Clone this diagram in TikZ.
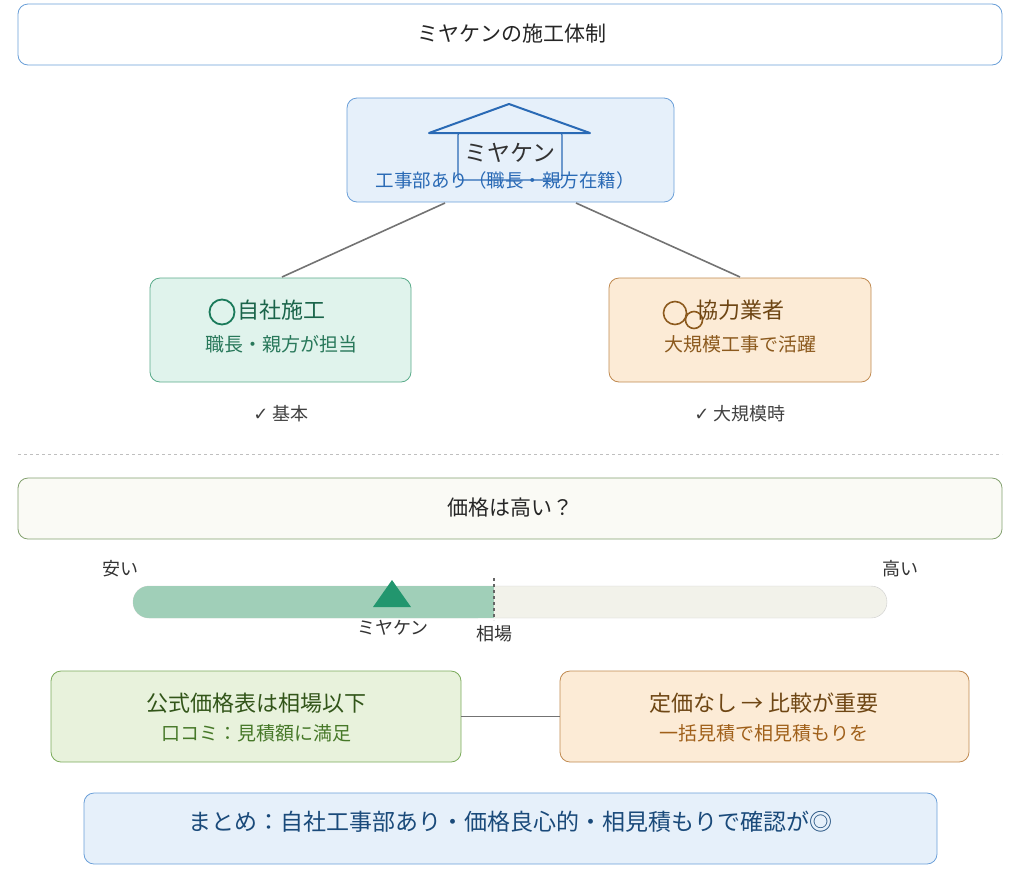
\documentclass[tikz,border=0pt]{standalone}
\usepackage{fontspec}
\setmainfont{Noto Sans CJK JP}
\newfontfamily\djv{DejaVu Sans}
\newcommand\fs[1]{\fontsize{#1}{#1}\selectfont}
\begin{document}
\begin{tikzpicture}[x=1pt,y=-1pt,
 box/.style={draw,rounded corners=10pt,line width=0.8pt},
 conn/.style={draw=gray!90!black,line width=1.6pt},
 t/.style={inner sep=0pt,anchor=center}]
\useasboundingbox (0,0) rectangle (1024,876);
\definecolor{bb}{HTML}{6A9FD8}\definecolor{bf}{HTML}{E6F0FA}
\definecolor{gb}{HTML}{5AAB8A}\definecolor{gf}{HTML}{E0F3EC}
\definecolor{ob}{HTML}{C08A50}\definecolor{of}{HTML}{FCEBD6}
\definecolor{lb}{HTML}{7AAA5A}\definecolor{lf}{HTML}{E8F2DC}
\definecolor{hb}{HTML}{2A6AB5}
\definecolor{gc}{HTML}{1A7A5A}\definecolor{gt}{HTML}{1A644A}\definecolor{gs}{HTML}{28785A}
\definecolor{oc}{HTML}{8C5A1E}\definecolor{ot}{HTML}{6E4614}\definecolor{os}{HTML}{A0601A}
\definecolor{pb}{HTML}{82A06E}\definecolor{pf}{HTML}{FAFAF5}
\definecolor{barf}{HTML}{F2F2EA}\definecolor{barg}{HTML}{A0CFB8}\definecolor{tri}{HTML}{22966E}
\definecolor{lt}{HTML}{325519}\definecolor{ls}{HTML}{467828}\definecolor{st}{HTML}{1A4A7A}
% title
\draw[box,draw=bb,fill=white] (18,4) rectangle (1002,65);
\node[t,font=\fs{21},text=black!85] (title) at (512,34) {ミヤケンの施工体制};
% top
\node[box,draw=bb,fill=bf,minimum width=327pt,minimum height=104pt] (top) at (510.5,150) {};
\draw[hb,line width=2pt,line join=round] (429,133)--(509,104)--(590,133)--cycle;
\draw[hb,line width=1.2pt,rounded corners=2pt] (458,133) rectangle (562,180);
\node[t,font=\fs{23},text=black!80] (tn) at (510,153) {ミヤケン};
\node[t,font=\fs{18.5},text=hb] (ts) at (505,180) {工事部あり（職長・親方在籍）};
% children
\node[box,draw=gb,fill=gf,minimum width=261pt,minimum height=104pt] (L) at (280.5,330) {};
\node[box,draw=ob,fill=of,minimum width=262pt,minimum height=104pt] (R) at (740,330) {};
\coordinate (la) at (445,203);\coordinate (lb1) at (282,277);
\coordinate (ra) at (576,203);\coordinate (rb1) at (740,277);
\draw[conn] (la)--(lb1); \draw[conn] (ra)--(rb1);
\draw[draw=gc,line width=1.8pt] (222,312) circle (12.5);
\node[t,font=\fs{22},text=gt] at (281,310) {自社施工};
\node[t,font=\fs{19},text=gs] at (281,344) {職長・親方が担当};
\draw[draw=oc,line width=1.6pt] (675,313) circle (11.5) (694,320) circle (8.5);
\node[t,font=\fs{22},text=ot] at (740,310) {協力業者};
\node[t,font=\fs{19},text=oc] at (740,344) {大規模工事で活躍};
\node[t,font=\fs{18},text=black!75] at (281,414) {{\djv ✓} 基本};
\node[t,font=\fs{18},text=black!75] at (740,414) {{\djv ✓} 大規模時};
\draw[black!25,dashed,line width=0.8pt] (18,454)--(1002,454);
% price
\node[box,draw=pb,fill=pf,minimum width=984pt,minimum height=61pt] (pq) at (510,508.5) {};
\node[t,font=\fs{21},text=black!85] at (510,508) {価格は高い？};
\node[t,font=\fs{18},text=black!80] at (120,569) {安い};
\node[t,font=\fs{18},text=black!80] at (900,569) {高い};
\draw[black!20,fill=barf,rounded corners=16pt] (133,586) rectangle (887,618);
\fill[barg,rounded corners=16pt] (133,586) rectangle (494,618);
\fill[barg] (470,586) rectangle (494,618);
\draw[black!60,dashed,line width=1.2pt] (494,578)--(494,620);
\fill[tri] (392,580)--(411,607)--(373,607)--cycle;
\node[t,font=\fs{18},text=black!80] at (393,628) {ミヤケン};
\node[t,font=\fs{18},text=black!80] at (494,634) {相場};
% bottom
\node[box,draw=lb,fill=lf,minimum width=410pt,minimum height=91pt] (BL) at (256,716.5) {};
\node[box,draw=ob,fill=of,minimum width=409pt,minimum height=91pt] (BR) at (764.5,716.5) {};
\draw[conn] (BL.east)--(BR.west);
\node[t,font=\fs{22},text=lt] at (256,703) {公式価格表は相場以下};
\node[t,font=\fs{19},text=ls] at (256,733) {口コミ：見積額に満足};
\node[t,font=\fs{22},text=ot] at (764,703) {定価なし → 比較が重要};
\node[t,font=\fs{19},text=os] at (764,733) {一括見積で相見積もりを};
\node[box,draw=bb,fill=bf,minimum width=853pt,minimum height=71pt] (sum) at (510.5,828.5) {};
\node[t,font=\fs{23},text=st] at (510,822) {まとめ：自社工事部あり・価格良心的・相見積もりで確認が◎};
\end{tikzpicture}
\end{document}
